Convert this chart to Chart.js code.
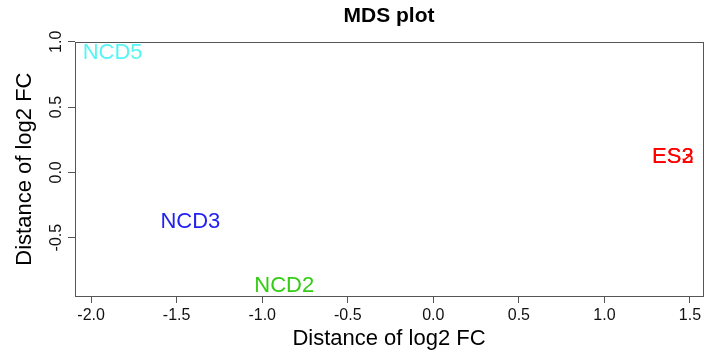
<!DOCTYPE html>
<html>
<head>
<meta charset="utf-8">
<script src="https://cdn.jsdelivr.net/npm/chart.js@4.4.0/dist/chart.umd.min.js"></script>
<style>
  html, body { margin: 0; padding: 0; background: #fff; }
  canvas { display: block; }
</style>
</head>
<body>
<canvas id="c" width="706" height="356"></canvas>
<script>
// MDS coordinates
const sampleNames = ['NCD2', 'NCD3', 'NCD5', 'ES2', 'ES3'];
const dim1 = [-0.871, -1.420, -1.874, 1.400, 1.400];
const dim2 = [-0.871, -0.383, 0.918, 0.115, 0.115];
const sampleColors = ['#33cc14', '#2222f0', '#55f5f5', '#ff0000', '#ff0000'];

const xTicks = [-2.0, -1.5, -1.0, -0.5, 0.0, 0.5, 1.0, 1.5];
const yTicks = [-0.5, 0.0, 0.5, 1.0];

Chart.defaults.font.family = '"Liberation Sans", Arial, sans-serif';

const axisColor = '#555';

// text labels in place of points, like R's text()
const sampleLabels = {
  id: 'sampleLabels',
  afterDatasetsDraw(chart) {
    const ctx = chart.ctx;
    const xs = chart.scales.x, ys = chart.scales.y;
    ctx.save();
    ctx.font = '22px "Liberation Sans", Arial, sans-serif';
    ctx.textAlign = 'center';
    ctx.textBaseline = 'middle';
    for (let i = 0; i < sampleNames.length; i++) {
      ctx.fillStyle = sampleColors[i];
      ctx.fillText(sampleNames[i], xs.getPixelForValue(dim1[i]), ys.getPixelForValue(dim2[i]));
    }
    ctx.restore();
  }
};

// box() around the plot region
const plotBox = {
  id: 'plotBox',
  afterDraw(chart) {
    const a = chart.chartArea;
    const ctx = chart.ctx;
    ctx.save();
    ctx.strokeStyle = axisColor;
    ctx.lineWidth = 1;
    ctx.strokeRect(Math.round(a.left) + 0.5, Math.round(a.top) + 0.5,
                   Math.round(a.right - a.left), Math.round(a.bottom - a.top));
    ctx.restore();
  }
};

const tickGrid = {
  display: true,
  drawOnChartArea: false,
  drawTicks: true,
  tickLength: 7,
  color: axisColor
};

new Chart(document.getElementById('c'), {
  type: 'scatter',
  data: {
    datasets: [{
      data: dim1.map((v, i) => ({x: v, y: dim2[i]})),
      pointRadius: 0
    }]
  },
  options: {
    responsive: false,
    devicePixelRatio: 1,
    animation: false,
    layout: {padding: {left: 0, right: 3, top: 0, bottom: 0}},
    plugins: {
      legend: {display: false},
      tooltip: {enabled: false},
      title: {
        display: true,
        fullSize: false,   // centred over the plot region, as R does
        text: 'MDS plot',
        color: '#000',
        font: {size: 21, weight: 'bold'},
        padding: {top: 4, bottom: 13}
      }
    },
    scales: {
      x: {
        type: 'linear',
        min: -2.094,
        max: 1.576,
        afterBuildTicks: s => { s.ticks = xTicks.map(v => ({value: v})); },
        afterFit: s => { s.height = 60; },
        ticks: {
          callback: v => v.toFixed(1),
          font: {size: 16},
          color: '#111',
          padding: 3,
          maxRotation: 0
        },
        grid: tickGrid,
        border: {display: false},
        title: {
          display: true,
          text: 'Distance of log2 FC',
          color: '#000',
          font: {size: 22},
          padding: {top: 0, bottom: 4}
        }
      },
      y: {
        type: 'linear',
        min: -0.947,
        max: 0.997,
        afterBuildTicks: s => { s.ticks = yTicks.map(v => ({value: v})); },
        afterFit: s => { s.width = 75; },
        ticks: {
          callback: v => v.toFixed(1),
          font: {size: 16},
          color: '#111',
          padding: -2,
          minRotation: 90,
          maxRotation: 90,
          crossAlign: 'center'
        },
        grid: tickGrid,
        border: {display: false},
        title: {
          display: true,
          text: 'Distance of log2 FC',
          color: '#000',
          font: {size: 22},
          padding: {top: 12, bottom: 0}
        }
      }
    }
  },
  plugins: [sampleLabels, plotBox]
});
</script>
</body>
</html>
